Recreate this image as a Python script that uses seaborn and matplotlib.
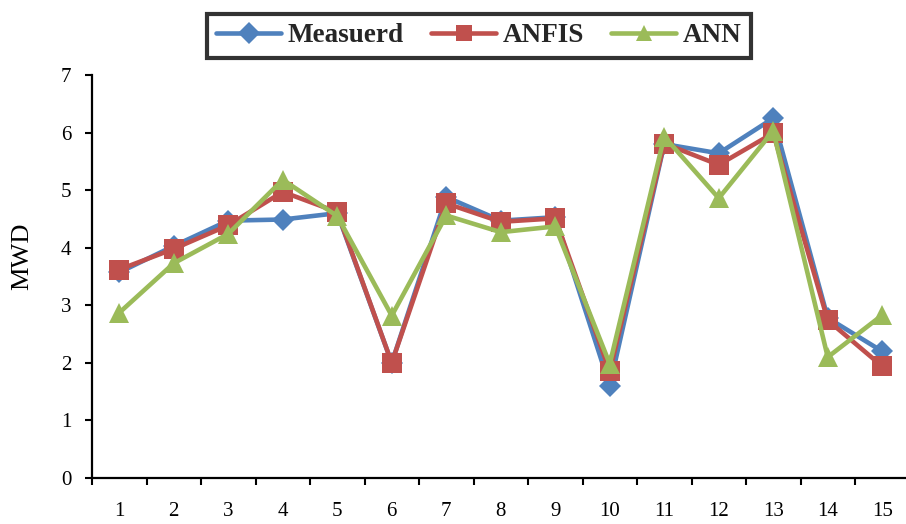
import matplotlib
matplotlib.use("Agg")
import matplotlib.pyplot as plt
import seaborn as sns
import pandas as pd

categories = list(range(1, 16))
measured = [3.57, 4.03, 4.47, 4.49, 4.60, 2.00, 4.88, 4.47, 4.53, 1.60, 5.80, 5.64, 6.25, 2.78, 2.20]
anfis = [3.62, 3.98, 4.39, 4.97, 4.62, 2.00, 4.77, 4.45, 4.51, 1.85, 5.81, 5.44, 5.99, 2.74, 1.94]
ann = [2.87, 3.73, 4.24, 5.18, 4.55, 2.82, 4.56, 4.27, 4.37, 1.98, 5.93, 4.86, 6.03, 2.10, 2.83]
series_names = ["Measuerd", "ANFIS", "ANN"]

df = pd.DataFrame({
    "x": categories * 3,
    "MWD": measured + anfis + ann,
    "series": [series_names[0]] * 15 + [series_names[1]] * 15 + [series_names[2]] * 15,
})

sns.set_theme(style="white")
plt.rcParams["font.family"] = ["Liberation Serif", "DejaVu Serif"]

fig = plt.figure(figsize=(9.06, 5.24), dpi=100)
ax = fig.add_axes([92 / 906, 1 - 478 / 524, (909.5 - 92) / 906, 403 / 524])

colors = {"Measuerd": "#4F81BD", "ANFIS": "#C0504D", "ANN": "#9BBB59"}
markers = {"Measuerd": "D", "ANFIS": "s", "ANN": "^"}
sizes = {"Measuerd": 11, "ANFIS": 14, "ANN": 15}

for name in series_names:
    sub = df[df["series"] == name]
    sns.lineplot(data=sub, x="x", y="MWD", ax=ax, color=colors[name],
                 marker=markers[name], markersize=sizes[name], linewidth=3.3,
                 markeredgewidth=0, label=name)

ax.set_xlim(0.5, 15.5)
ax.set_ylim(0, 7)
ax.set_xticks(categories)
ax.set_xticklabels([str(c) for c in categories])
ax.set_xticks([c + 0.5 for c in range(0, 15)], minor=True)
ax.set_yticks(range(0, 8))
ax.tick_params(axis="x", which="major", length=0, pad=17, labelsize=15, colors="black")
ax.tick_params(axis="x", which="minor", length=5, width=1.5, direction="out", color="black", bottom=True)
ax.tick_params(axis="y", length=5, width=1.5, direction="out", pad=10, labelsize=15, colors="black", left=True)
for s in ["top", "right"]:
    ax.spines[s].set_visible(False)
for s in ["left", "bottom"]:
    ax.spines[s].set_color("black")
    ax.spines[s].set_linewidth(1.6)
ax.grid(False)
ax.set_xlabel("")
ax.set_ylabel("MWD", fontsize=19, color="black")
ax.yaxis.set_label_coords(-0.072, 0.55)

ax.legend_.remove()
handles, labels = ax.get_legend_handles_labels()
leg = fig.legend(handles, labels, loc="center", bbox_to_anchor=(479 / 906, 1 - 36 / 524),
                 ncol=3, frameon=True, fancybox=False, handlelength=2.4, columnspacing=1.0,
                 handletextpad=0.25, borderpad=0.35, prop={"weight": "bold", "size": 19.5})
leg.get_frame().set_edgecolor("black")
leg.get_frame().set_linewidth(3)
for h in leg.legend_handles:
    h.set_markersize(11)

fig.savefig("out.png", dpi=100)
